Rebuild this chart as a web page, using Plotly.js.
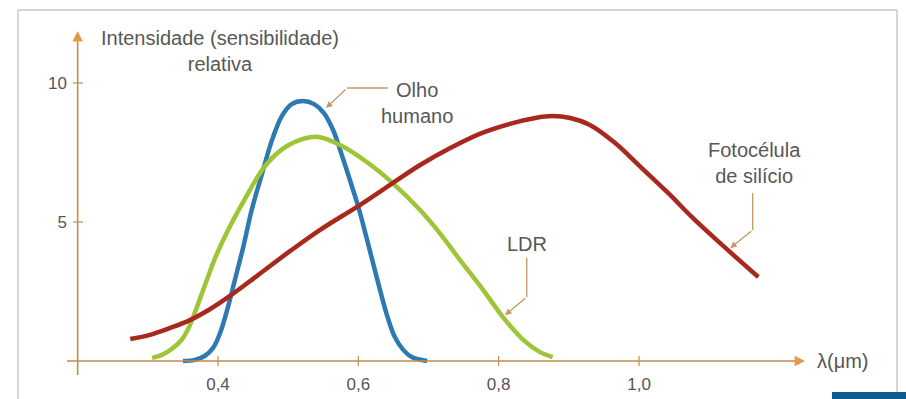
<!DOCTYPE html>
<html><head><meta charset="utf-8">
<script src="https://cdn.plot.ly/plotly-3.0.1.min.js"></script>
<style>html,body{margin:0;padding:0;background:#fff}</style>
</head><body><div id="chart" style="width:906px;height:399px"></div>
<script>
// ---- data ----
const olhoX = [0.350,0.367,0.381,0.393,0.403,0.413,0.424,0.436,0.448,0.463,0.477,0.491,0.505,0.521,0.537,0.551,0.564,0.575,0.588,0.600,0.611,0.622,0.632,0.642,0.652,0.664,0.676,0.698];
const olhoY = [0.00,0.04,0.18,0.47,1.01,1.83,2.91,4.10,5.43,6.76,7.95,8.81,9.24,9.35,9.24,8.92,8.31,7.52,6.51,5.54,4.50,3.42,2.45,1.55,0.86,0.40,0.14,0.00];

const ldrX = [0.306,0.320,0.334,0.349,0.360,0.371,0.383,0.396,0.413,0.436,0.464,0.488,0.517,0.543,0.574,0.612,0.649,0.688,0.716,0.745,0.778,0.806,0.835,0.859,0.877];
const ldrY = [0.11,0.22,0.43,0.79,1.29,2.01,2.84,3.71,4.64,5.72,6.91,7.55,7.95,8.06,7.77,7.16,6.40,5.43,4.60,3.63,2.55,1.58,0.76,0.32,0.14];

const fotoX = [0.275,0.303,0.332,0.360,0.389,0.417,0.457,0.503,0.545,0.602,0.649,0.688,0.731,0.773,0.816,0.852,0.876,0.902,0.930,0.966,1.001,1.040,1.077,1.120,1.170];
const fotoY = [0.79,0.94,1.19,1.47,1.87,2.34,3.09,3.96,4.71,5.61,6.40,7.05,7.66,8.17,8.53,8.74,8.81,8.74,8.49,7.84,7.01,6.08,5.14,4.14,3.02];

const xTickVals = [0.4, 0.6, 0.8, 1.0];
const xTickText = ["0,4", "0,6", "0,8", "1,0"];
const yTickVals = [5, 10];
const yTickText = ["5", "10"];

const labelOlho = "Olho<br>humano";
const labelLDR = "LDR";
const labelFoto = "Fotocélula<br>de silício";
const yTitle = "Intensidade (sensibilidade)<br>relativa";
const xTitle = "λ(μm)";

// ---- layout geometry ----
const W = 906, H = 399;
const mL = 70, mR = 96, mT = 26, mB = 29;
const pw = W - mL - mR, ph = H - mT - mB;
const PX = p => (p - mL) / pw;          // pixel -> paper x
const PY = p => (H - mB - p) / ph;      // pixel -> paper y

const FONT = "Liberation Sans, Arial, Helvetica, sans-serif";
const axisCol = "#c28c4c", arrowCol = "#e39a45", leadCol = "#c29a62", txtCol = "#575757";

const traces = [
  {x: olhoX, y: olhoY, name: "Olho humano", mode: "lines", line: {color: "#2f79b1", width: 4.5, shape: "spline", smoothing: 1}, hoverinfo: "skip"},
  {x: ldrX, y: ldrY, name: "LDR", mode: "lines", line: {color: "#9dc535", width: 4.5, shape: "spline", smoothing: 1}, hoverinfo: "skip"},
  {x: fotoX, y: fotoY, name: "Fotocélula de silício", mode: "lines", line: {color: "#a8281e", width: 4.5, shape: "spline", smoothing: 1}, hoverinfo: "skip"}
];

const shapes = [];
// scan frame
const frame = {color: "#c9c9c9", width: 1.5};
shapes.push({type: "line", xref: "paper", yref: "paper", x0: PX(18), x1: PX(897), y0: PY(10), y1: PY(10), line: frame});
shapes.push({type: "line", xref: "paper", yref: "paper", x0: PX(18), x1: PX(18), y0: PY(10), y1: PY(399), line: frame});
shapes.push({type: "line", xref: "paper", yref: "paper", x0: PX(897), x1: PX(897), y0: PY(10), y1: PY(392), line: frame});
shapes.push({type: "rect", xref: "paper", yref: "paper", x0: PX(832), x1: PX(906), y0: PY(392), y1: PY(399), line: {width: 0}, fillcolor: "#0e5c8f"});
// axes
shapes.push({type: "line", xref: "paper", yref: "y", x0: PX(67), x1: PX(797), y0: 0, y1: 0, line: {color: axisCol, width: 1.6}});
shapes.push({type: "line", xref: "x", yref: "paper", x0: 0.2, x1: 0.2, y0: PY(375), y1: PY(40), line: {color: axisCol, width: 1.6}});
// tick crosses
xTickVals.forEach(v => shapes.push({type: "line", xref: "x", yref: "y", x0: v, x1: v, y0: -0.18, y1: 0.18, line: {color: axisCol, width: 1.2}}));
yTickVals.forEach(v => shapes.push({type: "line", xref: "paper", yref: "y", x0: PX(73), x1: PX(83), y0: v, y1: v, line: {color: axisCol, width: 1.2}}));
// leader straight segments
shapes.push({type: "line", xref: "x", yref: "y", x0: 0.584, x1: 0.642, y0: 9.82, y1: 9.82, line: {color: leadCol, width: 1.3}});
shapes.push({type: "line", xref: "x", yref: "y", x0: 0.840, x1: 0.840, y0: 3.71, y1: 2.30, line: {color: leadCol, width: 1.3}});
shapes.push({type: "line", xref: "x", yref: "y", x0: 1.162, x1: 1.162, y0: 6.04, y1: 4.71, line: {color: leadCol, width: 1.3}});

const lbl = {family: FONT, size: 20, color: txtCol};
const annotations = [
  // axis arrowheads
  {xref: "paper", yref: "y", x: PX(805), y: 0, ax: -12, ay: 0, showarrow: true, arrowhead: 2, arrowsize: 1.3, arrowwidth: 1.6, arrowcolor: arrowCol, text: ""},
  {xref: "x", yref: "paper", x: 0.2, y: PY(31), ax: 0, ay: 12, showarrow: true, arrowhead: 2, arrowsize: 1.3, arrowwidth: 1.6, arrowcolor: arrowCol, text: ""},
  // leader diagonals with arrow tips
  {xref: "x", yref: "y", x: 0.554, y: 9.10, axref: "x", ayref: "y", ax: 0.584, ay: 9.82, showarrow: true, arrowhead: 2, arrowsize: 1, arrowwidth: 1.3, arrowcolor: leadCol, text: ""},
  {xref: "x", yref: "y", x: 0.809, y: 1.65, axref: "x", ayref: "y", ax: 0.840, ay: 2.30, showarrow: true, arrowhead: 2, arrowsize: 1, arrowwidth: 1.3, arrowcolor: leadCol, text: ""},
  {xref: "x", yref: "y", x: 1.130, y: 4.06, axref: "x", ayref: "y", ax: 1.162, ay: 4.71, showarrow: true, arrowhead: 2, arrowsize: 1, arrowwidth: 1.3, arrowcolor: leadCol, text: ""},
  // labels
  {xref: "x", yref: "y", x: 0.684, y: 9.28, xanchor: "center", yanchor: "middle", text: labelOlho, showarrow: false, font: lbl, align: "center"},
  {xref: "x", yref: "y", x: 0.840, y: 4.21, xanchor: "center", yanchor: "middle", text: labelLDR, showarrow: false, font: lbl},
  {xref: "x", yref: "y", x: 1.165, y: 7.14, xanchor: "center", yanchor: "middle", text: labelFoto, showarrow: false, font: lbl, align: "center"},
  {xref: "paper", yref: "paper", x: PX(220), y: PY(50.5), xanchor: "center", yanchor: "middle", text: yTitle, showarrow: false, font: lbl, align: "center"},
  {xref: "paper", yref: "y", x: PX(815), y: 0, xanchor: "left", yanchor: "middle", text: xTitle, showarrow: false, font: lbl}
];

const layout = {
  width: W, height: H,
  margin: {l: mL, r: mR, t: mT, b: mB, pad: 0},
  paper_bgcolor: "#ffffff", plot_bgcolor: "#ffffff",
  showlegend: false,
  xaxis: {range: [0.4 - 148 / 701.7, 0.4 + 592 / 701.7], showgrid: false, zeroline: false, showline: false,
          tickvals: xTickVals, ticktext: xTickText, ticks: "", ticklabelstandoff: 2,
          tickfont: {family: FONT, size: 17, color: "#555"}},
  yaxis: {range: [-9 / 27.8, 335 / 27.8], showgrid: false, zeroline: false, showline: false,
          tickvals: yTickVals, ticktext: yTickText, ticks: "", ticklabelstandoff: 2,
          tickfont: {family: FONT, size: 17, color: "#555"}},
  shapes: shapes,
  annotations: annotations
};

Plotly.newPlot("chart", traces, layout, {displayModeBar: false, staticPlot: true});
</script></body></html>
